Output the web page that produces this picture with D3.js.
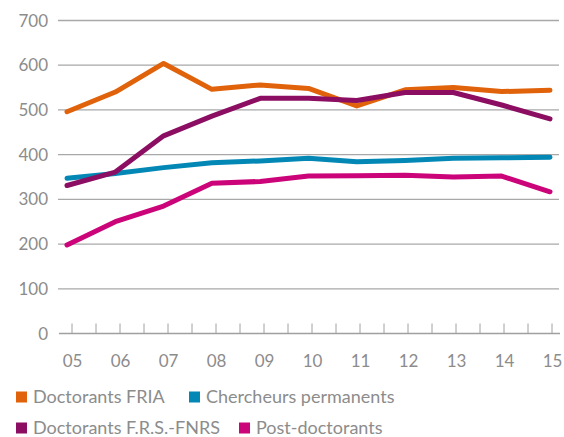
<!DOCTYPE html>
<html>
<head>
<meta charset="utf-8">
<script src="https://cdn.jsdelivr.net/npm/d3@7"></script>
<style>
  body { margin: 0; background: #fff; }
  svg text { font-family: 'Lato', 'Open Sans', sans-serif; fill: #8c8c8c; }
</style>
</head>
<body>
<div class="chart"></div>
<script>
const years = ['05', '06', '07', '08', '09', '10', '11', '12', '13', '14', '15']
const yTicks = [0, 100, 200, 300, 400, 500, 600, 700]

const fria = [496, 540, 604, 546, 556, 548, 509, 545, 550, 541, 544]
const fnrs = [331, 361, 442, 486, 526, 526, 521, 539, 539, 511, 480]
const chercheurs = [347, 358, 371, 382, 386, 392, 384, 387, 392, 393, 394]
const postdocs = [198, 250, 285, 336, 340, 352, 353, 354, 350, 352, 317]

const seriesNames = ['Doctorants FRIA', 'Chercheurs permanents', 'Doctorants F.R.S.-FNRS', 'Post-doctorants']
const seriesColors = ['#e0620b', '#0388b6', '#8b0e62', '#cc0479']

const series = [
  { name: seriesNames[0], color: seriesColors[0], values: fria },
  { name: seriesNames[1], color: seriesColors[1], values: chercheurs },
  { name: seriesNames[2], color: seriesColors[2], values: fnrs },
  { name: seriesNames[3], color: seriesColors[3], values: postdocs }
]

const fullWidth = 564
const fullHeight = 437

const svg = d3.select('.chart')
  .append('svg')
    .attr('width', fullWidth)
    .attr('height', fullHeight)

// scales
const yScale = d3.scaleLinear().domain([0, 700]).range([333.5, 20.5])
const xScale = d3.scalePoint().domain(years).range([67, 550])
const xLabel = d3.scalePoint().domain(years).range([72, 552])
const minor = d3.scaleLinear().domain([0, 20]).range([72, 552])

// grid
svg.append('g')
  .selectAll('line')
  .data(yTicks.filter(d => d > 0))
  .enter()
    .append('line')
    .attr('x1', 58)
    .attr('x2', 559)
    .attr('y1', d => yScale(d))
    .attr('y2', d => yScale(d))
    .attr('stroke', '#a8a8a8')
    .attr('stroke-width', 1.3)

// y labels
svg.append('g')
  .selectAll('text')
  .data(yTicks)
  .enter()
    .append('text')
    .attr('x', 48)
    .attr('y', d => yScale(d))
    .attr('dy', '0.36em')
    .attr('text-anchor', 'end')
    .style('font-size', '17px')
    .text(d => d)

// x axis: baseline, small ticks, labels
const xAxis = d3.axisBottom(xLabel).tickSize(0).tickPadding(21)
const gx = svg.append('g')
  .attr('transform', `translate(0, ${yScale(0)})`)
  .call(xAxis)
gx.select('.domain').remove()
gx.selectAll('text')
  .style('font-size', '17px')
  .attr('fill', null)

svg.append('line')
  .attr('x1', 59).attr('x2', 560)
  .attr('y1', yScale(0)).attr('y2', yScale(0))
  .attr('stroke', '#a0a0a0')
  .attr('stroke-width', 1.3)

svg.append('g')
  .selectAll('line')
  .data(d3.range(21))
  .enter()
    .append('line')
    .attr('x1', d => minor(d))
    .attr('x2', d => minor(d))
    .attr('y1', yScale(0) - 10)
    .attr('y2', yScale(0))
    .attr('stroke', '#a0a0a0')
    .attr('stroke-width', 1)

// lines
const line = d3.line()
  .x((d, i) => xScale(years[i]))
  .y(d => yScale(d))

svg.append('g')
  .selectAll('path')
  .data(series)
  .enter()
    .append('path')
    .attr('d', d => line(d.values))
    .attr('fill', 'none')
    .attr('stroke', d => d.color)
    .attr('stroke-width', 5)
    .attr('stroke-linecap', 'round')
    .attr('stroke-linejoin', 'round')

// legend
const legendPos = [[16, 397], [189, 397], [16, 428], [239, 428]]
const legend = svg.append('g')
  .selectAll('g')
  .data(series)
  .enter()
    .append('g')
    .attr('transform', (d, i) => `translate(${legendPos[i][0]}, ${legendPos[i][1]})`)

legend.append('rect')
  .attr('x', 0).attr('y', -5.5)
  .attr('width', 11).attr('height', 11)
  .attr('fill', d => d.color)

legend.append('text')
  .attr('x', 17)
  .attr('dy', '0.36em')
  .style('font-size', '18px')
  .text(d => d.name)
</script>
</body>
</html>
